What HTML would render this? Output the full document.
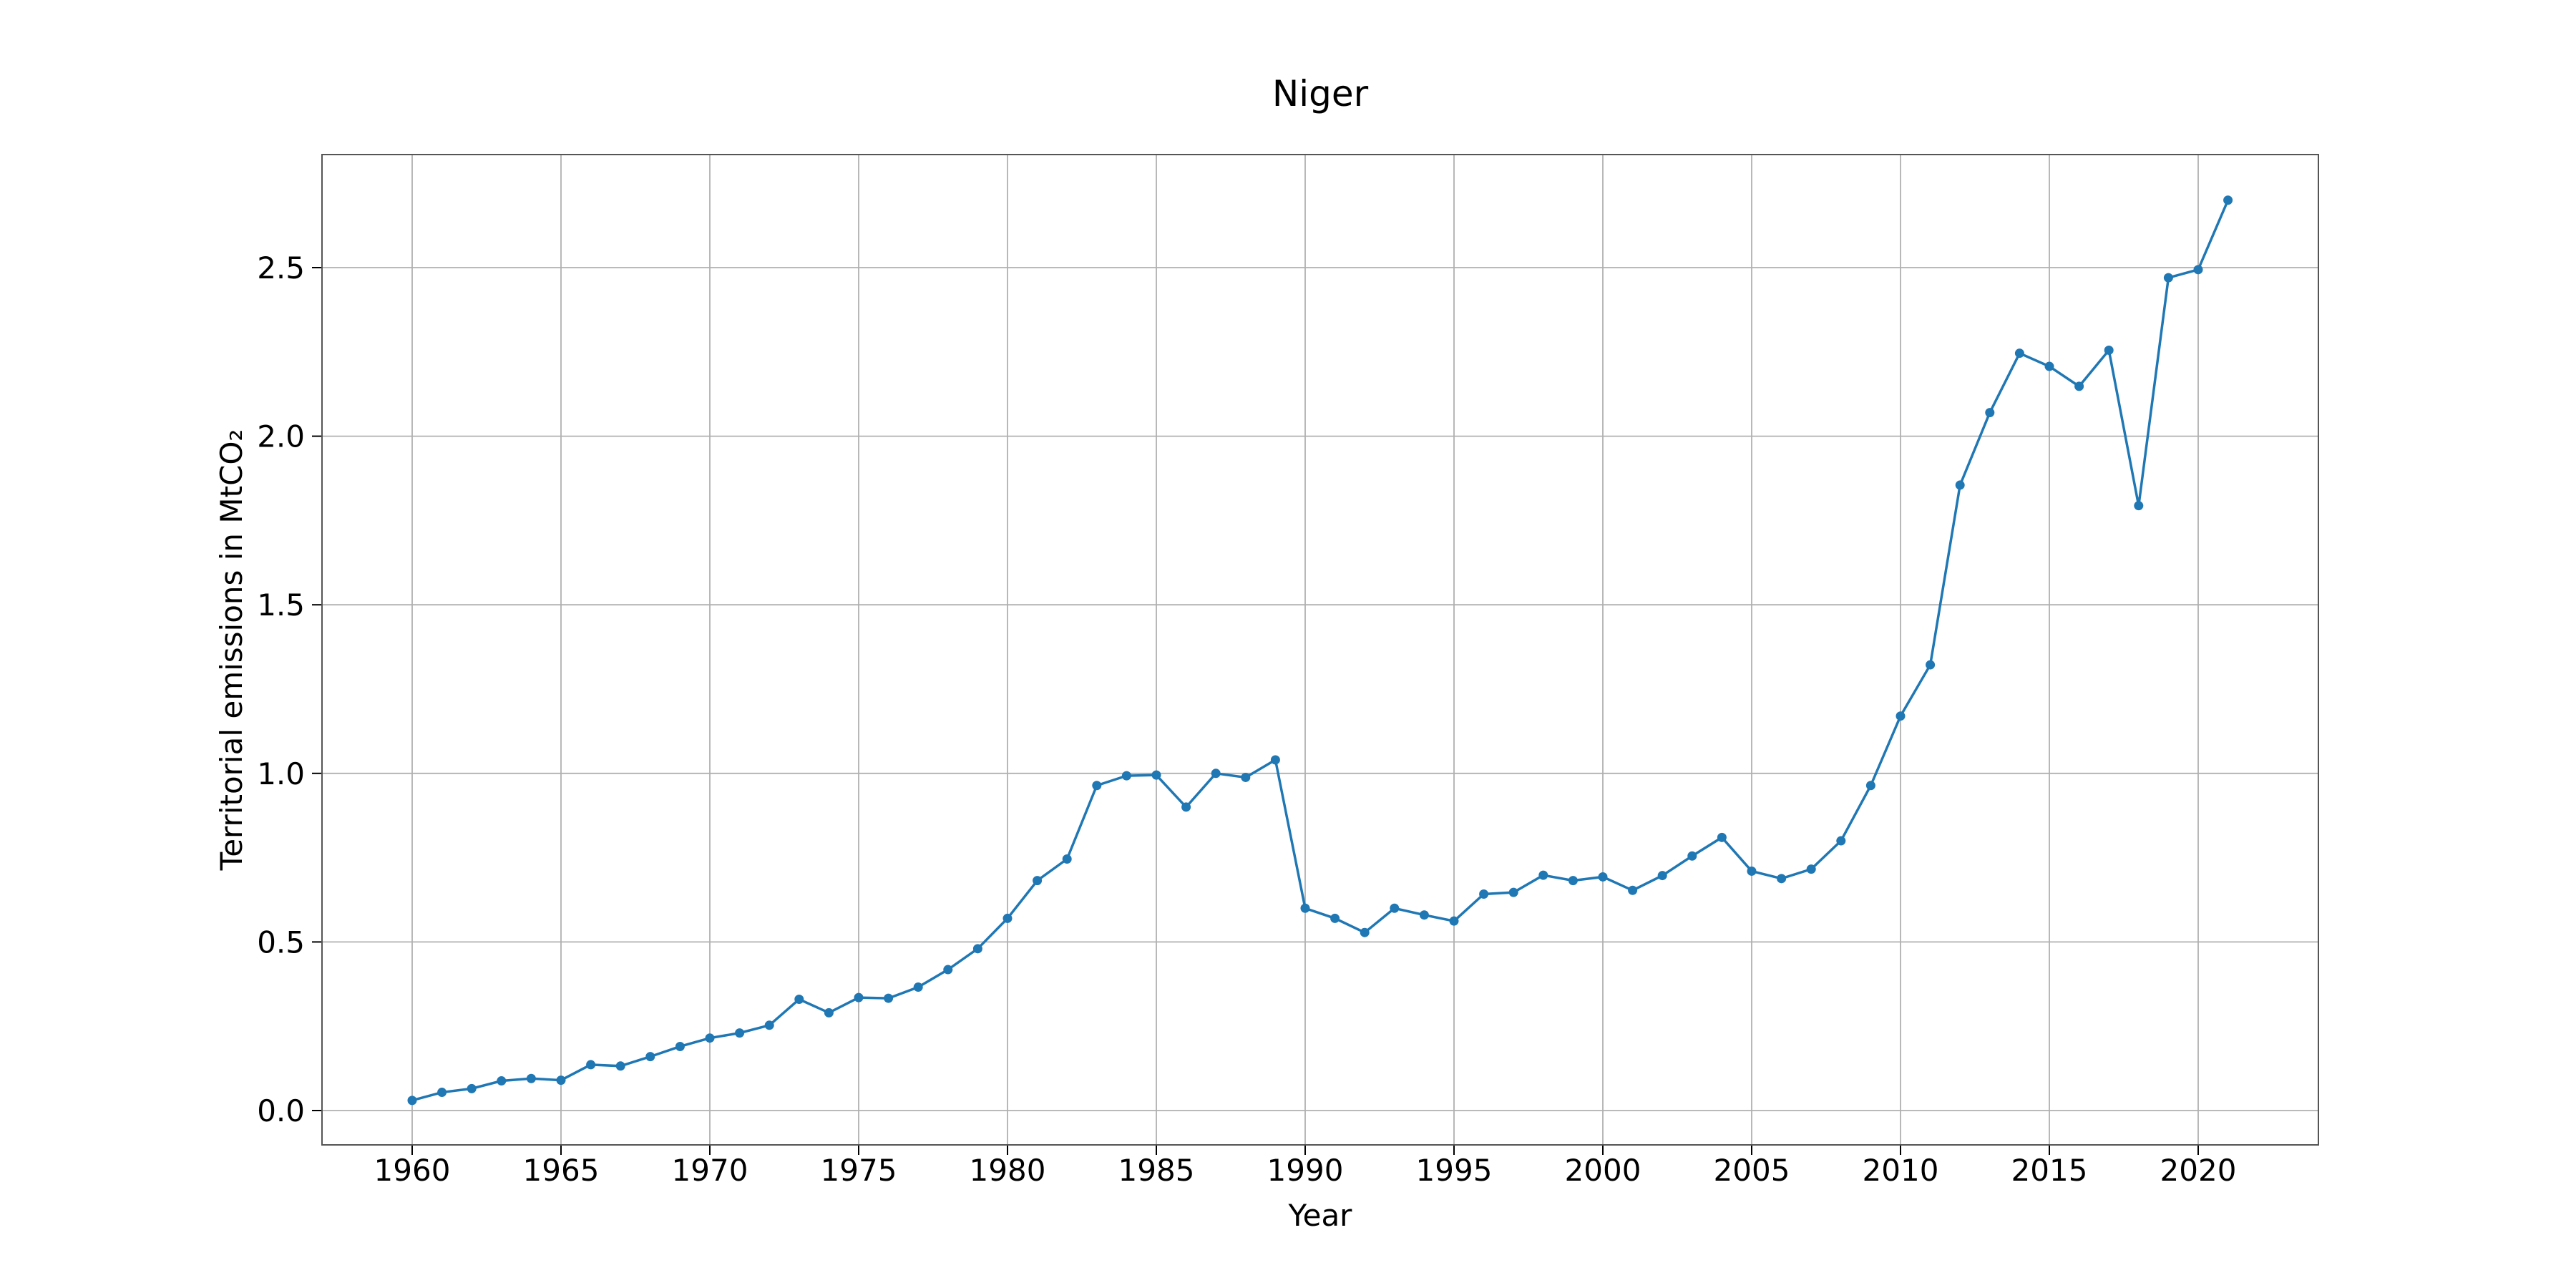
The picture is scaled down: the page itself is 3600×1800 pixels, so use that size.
<!DOCTYPE html>
<html><head><meta charset="utf-8"><style>
html,body{margin:0;padding:0;background:#fff;}
svg{display:block;font-family:"DejaVu Sans","Liberation Sans",sans-serif;}
</style></head><body>
<svg id="chart" width="3600" height="1800" viewBox="0 0 3600 1800" xmlns="http://www.w3.org/2000/svg">
<rect width="3600" height="1800" fill="#fff"/>
<text x="1845" y="148" font-size="50" text-anchor="middle" fill="#000">Niger</text>
<g id="grid"></g>
<g id="ticks"></g>
<rect x="450" y="216" width="2790" height="1384" fill="none" stroke="#555" stroke-width="2"/>
<g id="series"></g>
<text x="1845" y="1713" font-size="42" text-anchor="middle" fill="#000">Year</text>
<text x="0" y="0" transform="translate(338,908) rotate(-90)" font-size="42" text-anchor="middle" fill="#000">Territorial emissions in MtCO₂</text>
</svg>
<script>
const years=[1960,1961,1962,1963,1964,1965,1966,1967,1968,1969,1970,1971,1972,1973,1974,1975,1976,1977,1978,1979,1980,1981,1982,1983,1984,1985,1986,1987,1988,1989,1990,1991,1992,1993,1994,1995,1996,1997,1998,1999,2000,2001,2002,2003,2004,2005,2006,2007,2008,2009,2010,2011,2012,2013,2014,2015,2016,2017,2018,2019,2020,2021];
const emissions=[0.03,0.054,0.065,0.088,0.095,0.09,0.136,0.132,0.16,0.19,0.215,0.23,0.253,0.33,0.29,0.335,0.333,0.366,0.418,0.48,0.57,0.682,0.746,0.964,0.993,0.995,0.9,1.0,0.988,1.04,0.6,0.57,0.528,0.6,0.58,0.562,0.642,0.647,0.698,0.682,0.693,0.653,0.697,0.755,0.81,0.71,0.688,0.716,0.8,0.964,1.17,1.322,1.855,2.07,2.246,2.207,2.148,2.255,1.794,2.47,2.494,2.7];
const xTicks=[1960,1965,1970,1975,1980,1985,1990,1995,2000,2005,2010,2015,2020];
const yTicks=[0,0.5,1.0,1.5,2.0,2.5];
const yTickLabels=["0.0","0.5","1.0","1.5","2.0","2.5"];
const NS="http://www.w3.org/2000/svg";
const xS=v=>576+(v-1960)*(3072-576)/60;
const yS=v=>1552-v*(1552-374)/2.5;
const grid=document.getElementById('grid'),ticks=document.getElementById('ticks'),series=document.getElementById('series');
function mk(tag,attrs,parent){const e=document.createElementNS(NS,tag);for(const k in attrs)e.setAttribute(k,attrs[k]);parent.appendChild(e);return e;}
xTicks.forEach(t=>{
  const x=xS(t);
  const g=mk('line',{x1:x,x2:x,y1:216,y2:1600,stroke:'#b0b0b0','stroke-width':1.8},grid);
  
  
  const tk=mk('line',{x1:x,x2:x,y1:1600,y2:1614,stroke:'#000','stroke-width':2},ticks);
  
  
  const lb=mk('text',{x:x,y:1650,'font-size':42,'text-anchor':'middle',fill:'#000'},ticks);
  lb.textContent=t;
  
  
});
yTicks.forEach((t,i)=>{
  const y=yS(t);
  const g=mk('line',{x1:450,x2:3240,y1:y,y2:y,stroke:'#b0b0b0','stroke-width':1.8},grid);
  
  
  const tk=mk('line',{x1:436,x2:450,y1:y,y2:y,stroke:'#000','stroke-width':2},ticks);
  
  
  const lb=mk('text',{x:426,y:y+15,'font-size':42,'text-anchor':'end',fill:'#000'},ticks);
  lb.textContent=yTickLabels[i];
  
  
});
const pts=years.map((yr,i)=>xS(yr)+','+yS(emissions[i])).join(' ');
const line=mk('polyline',{points:pts,fill:'none',stroke:'#1f77b4','stroke-width':3.5},series);


years.forEach((yr,i)=>{
  const c=mk('circle',{cx:xS(yr),cy:yS(emissions[i]),r:6.5,fill:'#1f77b4'},series);
  
  
});
</script>
</body></html>
